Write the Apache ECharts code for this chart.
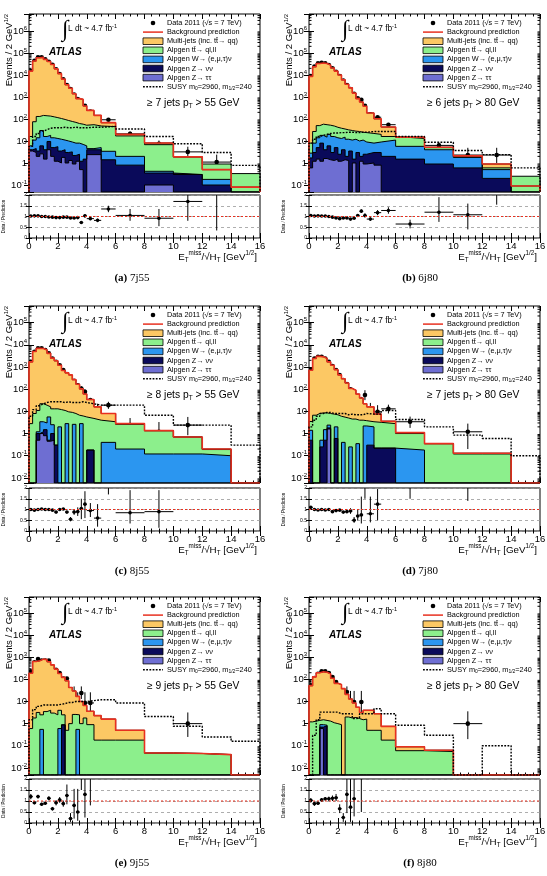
<!DOCTYPE html>
<html>
<head>
<meta charset="utf-8">
<script src="https://cdn.jsdelivr.net/npm/echarts@6/dist/echarts.min.js"></script>
<style>
  html, body { margin: 0; padding: 0; background: #fff; }
  #chart { width: 547px; height: 876px; }
</style>
</head>
<body>
<div id="chart"></div>
<script>
const _ = null;
// bin edges of E_T^miss / sqrt(H_T)
const edges = [0, 0.25, 0.5, 0.75, 1, 1.25, 1.5, 1.75, 2, 2.25, 2.5, 2.75, 3, 3.25, 3.5, 3.75, 4, 4.5, 5, 6, 8, 10, 12, 14, 16];

// (a) 7j55 : stack tops (cumulative), SUSY, data, ratio
const totA = [1.5e4, 4.3e4, 6.1e4, 6.3e4, 5.1e4, 4.1e4, 3.0e4, 1.9e4, 1.15e4, 6.5e3, 3.6e3, 2.5e3, 1.4e3, 840, 780, 390, 245, 146, 68, 20, 8.1, 1.9, 0.5, 0.08];
const ttA = [16, 75, 130, 145, 140, 135, 125, 115, 105, 95, 85, 77, 70, 62, 58, 52, 55, 48, 45, 17, 6.8, 1.9, 0.9, 0.33];
const wA = [6, 11, 14, 30, 16, 18, 14, 13, 12, 11, 10, 9, 8, 8, 7, 6, 4.5, 5, 3.4, 2, 0.42, 0.3, 0.18, 0];
const zvvA = [4, 4.5, 3.5, 6, 4, 9.5, 5, 5.5, 3.5, 4, 3, 3.2, 2.2, 2.5, 1.2, 1.5, 4, 4, 1.4, 0.8, 0.35, 0.3, 0.1, 0];
const zttA = [3.5, 3, 2, 2.6, 1.5, 4, 2, 1.2, 1, 1.8, 1, 1.3, 0.9, 1.2, 0.5, 0, 2.4, 2.4, 0, 0, 0.1, 0, 0, 0];
const susyA = [5.7, 16, 22, 28, 33, 38, 40, 40, 40, 42, 40, 40, 42, 40, 40, 40, 42, 42, 46, 35, 16, 7.5, 3, 0.78];
const dataA = [1.5e4, 4.4e4, 6.3e4, 6.3e4, 5.1e4, 4.0e4, 2.9e4, 1.8e4, 1.1e4, 6.3e3, 3.5e3, 2.3e3, 1.3e3, 800, 560, 400, 220, 120, 92, 21, 7.5, 3.2, 1.1, _];
const dataLoA = [_, _, _, _, _, _, _, _, _, _, _, _, _, _, _, _, 195, 100, 80, 16, 5.2, 1.5, 0.1, _];
const dataHiA = [_, _, _, _, _, _, _, _, _, _, _, _, _, _, _, _, 245, 140, 105, 27, 10.5, 5.5, 2.4, _];
const ratA = [1.02, 1.03, 1.03, 1.0, 1.0, 0.98, 0.97, 0.95, 0.95, 0.97, 0.97, 0.93, 0.93, 0.95, 0.72, 1.03, 0.9, 0.82, 1.35, 1.05, 0.92, 1.7, 2.2, _];
const ratLoA = [_, _, _, _, _, _, _, _, _, _, _, _, _, _, 0.66, 0.96, 0.83, 0.74, 1.2, 0.8, 0.55, 0.8, 0.35, _];
const ratHiA = [_, _, _, _, _, _, _, _, _, _, _, _, _, _, 0.78, 1.1, 0.97, 0.9, 1.5, 1.35, 1.35, 2.6, 4, _];

// (b) 6j80
const totB = [8.6e3, 2.35e4, 3.3e4, 3.5e4, 3.3e4, 2.8e4, 2.06e4, 1.5e4, 1.0e4, 6.0e3, 3.8e3, 2.6e3, 1.5e3, 840, 590, 380, 188, 102, 43, 15, 5.2, 2.1, 0.9, 0.09];
const ttB = [8, 27, 50, 58, 55, 52, 48, 42, 38, 35, 32, 30, 28, 27, 25, 24, 22, 20, 16, 13, 5, 1.9, 0.6, 0.25];
const wB = [2.8, 8, 14, 18, 15, 20, 16, 14, 13, 15, 12, 11, 12, 10, 11, 9, 8, 9, 11, 5.7, 4, 1.8, 0.5, 0];
const zvvB = [1.7, 3, 5, 8, 4, 6, 3, 5, 2.5, 4, 2, 3.5, 1.5, 3, 2, 2.5, 3, 3, 2, 1.5, 0.9, 0.6, 0.2, 0];
const zttB = [0.6, 1.2, 1.5, 1.2, 1.6, 1.4, 1.3, 1.5, 1.2, 1.4, 1.3, 0, 1.0, 0, 1.2, 0.9, 1.0, 0.8, 0, 0, 0, 0, 0, 0];
const susyB = [8, 12, 16, 18, 20, 22, 23, 23, 24, 24, 25, 25, 24, 24, 25, 25, 27, 27, 27, 16, 8.7, 3.7, 2.4, 0.6];
const dataB = [9e3, 2.4e4, 3.4e4, 3.6e4, 3.4e4, 2.8e4, 2.0e4, 1.4e4, 9e3, 5.6e3, 3.5e3, 2.3e3, 1.4e3, 880, 740, 400, 165, 120, 55, 10, 6.3, 2.3, 2.3, _];
const dataLoB = [_, _, _, _, _, _, _, _, _, _, _, _, _, _, _, _, 145, 100, 45, 7, 4.5, 1.0, 1.0, _];
const dataHiB = [_, _, _, _, _, _, _, _, _, _, _, _, _, _, _, _, 185, 140, 66, 13.5, 8.5, 4.9, 4.9, _];
const ratB = [1.05, 1.02, 1.03, 1.02, 1.02, 1.0, 0.97, 0.93, 0.9, 0.93, 0.93, 0.88, 0.92, 1.05, 1.25, 1.05, 0.88, 1.18, 1.28, 0.65, 1.2, 1.08, 2.5, _];
const ratLoB = [_, _, _, _, _, _, _, _, _, _, _, _, _, _, 1.17, 0.95, 0.8, 1.06, 1.13, 0.45, 0.75, 0.4, 1.55, _];
const ratHiB = [_, _, _, _, _, _, _, _, _, _, _, _, _, _, 1.33, 1.15, 0.96, 1.3, 1.43, 0.85, 1.9, 1.6, 5, _];

// (c) 8j55
const totC = [1.7e3, 5.0e3, 6.9e3, 6.8e3, 5.8e3, 4.1e3, 2.5e3, 1.9e3, 1.2e3, 700, 545, 440, 270, 167, 103, 61, 34, 16, 8, 2.8, 1.35, 0.7, 0.2, 0];
const ttC = [2.8, 8, 11, 22, 19, 16, 13, 13, 12, 11, 9.5, 9, 8, 6.7, 6.2, 5.6, 4.8, 4, 3.4, 2.6, 1.35, 0.7, 0.19, 0];
const wC = [0, 0, 1.2, 3.4, 3.0, 5.6, 2.5, 0.3, 2.0, 0, 2.8, 0, 2.6, 0, 2.8, 0, 0.18, 0, 0.4, 0.2, 0.12, 0.12, 0.1, 0];
const zvvC = [0, 0, 1.0, 1.2, 1.5, 0.5, 1.0, 0.3, 0, 0, 0, 0, 0, 0, 0, 0, 0.18, 0, 0, 0, 0, 0, 0, 0];
const zttC = [0, 0, 0.5, 1.0, 0.8, 0.45, 0.5, 0, 0, 0, 0, 0, 0, 0, 0, 0, 0, 0, 0, 0, 0, 0, 0, 0];
const susyC = [6, 12, 18, 22, 25, 27, 27, 27, 27, 25, 27, 25, 25, 25, 27, 25, 22, 19, 19, 19, 6.7, 2.4, 2.4, 0.3];
const dataC = [1.7e3, 4.9e3, 6.9e3, 6.9e3, 5.8e3, 4.1e3, 2.4e3, 1.7e3, 1.2e3, 720, 480, 240, 240, 150, 108, 76, 32, 9.5, 19, 2.4, 1.2, 2.4, _, _];
const dataLoC = [_, _, _, _, _, _, _, _, _, _, _, _, _, _, 85, 55, 25, 3.5, 13, 1.0, 0.35, 0.84, _, _];
const dataHiC = [_, _, _, _, _, _, _, _, _, _, _, _, _, _, 135, 100, 40, 22, 27, 5, 3.3, 5.6, _, _];
const ratC = [1.0, 0.97, 1.0, 1.02, 1.0, 1.0, 0.97, 0.88, 1.0, 1.02, 0.88, 0.55, 0.88, 0.9, 1.05, 1.25, 0.95, 0.6, 2.4, 0.85, 0.9, _, _, _];
const ratLoC = [_, _, _, _, _, _, _, _, _, _, 0.83, 0.45, 0.75, 0.7, 0.55, 0.6, 0.65, 0.2, 1.7, 0.35, 0.15, _, _, _];
const ratHiC = [_, _, _, _, _, _, _, _, _, _, 0.93, 0.65, 1.0, 1.1, 1.5, 1.85, 1.3, 1.25, 3.5, 1.9, 1.9, _, _, _];

// (d) 7j80
const totD = [710, 2.4e3, 3.0e3, 2.9e3, 2.45e3, 1.7e3, 1.2e3, 760, 440, 295, 190, 108, 90, 60, 40, 22, 16, 7.6, 3.6, 1.1, 0.35, 0.13, 0.13, 0];
const ttD = [3.5, 6.7, 8, 8.5, 8.5, 8, 7.5, 7, 6, 5.5, 5, 4.5, 4.5, 4, 4, 3.8, 3.4, 3.2, 2.8, 1.0, 0.35, 0.12, 0.12, 0];
const wD = [1.4, 0, 0, 0.5, 1.5, 2.4, 0, 2.0, 0, 0.4, 0, 0.25, 0, 0.35, 0, 2.2, 2.0, 0.22, 0.22, 0.18, 0, 0, 0, 0];
const zvvD = [0.5, 0, 0, 0.25, 0.5, 1.8, 0, 0.6, 0, 0, 0, 0, 0, 0, 0, 0, 0.3, 0.22, 0.22, 0, 0, 0, 0, 0];
const zttD = [0, 0, 0, 0, 0, 1.6, 0, 0, 0, 0, 0, 0, 0, 0, 0, 0, 0, 0, 0, 0, 0, 0, 0, 0];
const susyD = [2, 4, 6, 8, 9, 9, 8, 8, 8, 8, 7, 7.5, 7, 7, 7, 8, 7.5, 7.5, 11, 4.3, 2.0, 0.85, 0.6, 0.1];
const dataD = [780, 2.4e3, 2.9e3, 2.9e3, 2.4e3, 1.7e3, 1.1e3, 720, 430, 260, 170, 100, 45, 42, 30, 55, 13, 9.5, 13, 3.4, _, 1.2, _, _];
const dataLoD = [_, _, _, _, _, _, _, _, _, _, _, 85, 32, 30, 20, 32, 6, 3.5, 8, 1.8, _, 0.2, _, _];
const dataHiD = [_, _, _, _, _, _, _, _, _, _, _, 118, 60, 57, 45, 90, 24, 19, 20, 5.8, _, 2.8, _, _];
const ratD = [1.1, 1.0, 0.98, 1.0, 0.98, 1.0, 0.9, 0.95, 0.97, 0.88, 0.9, 0.93, 0.5, 0.7, 0.75, 2.5, 0.8, 1.25, 3.6, 3.1, _, 9, _, _];
const ratLoD = [_, _, _, _, _, _, _, _, _, _, _, 0.8, 0.38, 0.5, 0.35, 1.5, 0.4, 0.5, 2.2, 1.5, _, 1.4, _, _];
const ratHiD = [_, _, _, _, _, _, _, _, _, _, _, 1.06, 0.65, 1.0, 1.6, 4, 1.6, 1.95, 5, 5, _, 20, _, _];

// (e) 9j55
const totE = [190, 640, 690, 820, 780, 625, 450, 290, 185, 123, 86, 43, 30, 17, 10, 6.6, 3.6, 2.3, 1.6, 0.5, 0.047, 0.045, 0.04, 0];
const ttE = [0.6, 1.8, 3.2, 2.5, 3.5, 4, 3, 2.5, 4, 2.5, 0.5, 1.0, 2.6, 2.5, 1.0, 1.8, 0.9, 0.18, 0.18, 0.18, 0.047, 0.045, 0.04, 0];
const wE = [0, 0, 0, 0.55, 0, 0, 0, 0, 0.6, 0.9, 0, 0, 0, 0.55, 0, 0, 0, 0, 0, 0, 0, 0, 0, 0];
const zvvE = [0, 0, 0, 0, 0, 0, 0, 0, 0, 0.85, 0, 0, 0, 0, 0, 0, 0, 0, 0, 0, 0, 0, 0, 0];
const zttE = [0, 0, 0, 0, 0, 0, 0, 0, 0, 0, 0, 0, 0, 0, 0, 0, 0, 0, 0, 0, 0, 0, 0, 0];
const susyE = [1.5, 4.3, 6, 7, 7, 7, 7, 7, 7.5, 8, 9, 9, 10, 10, 10, 10, 11, 12, 12, 8.6, 2.1, 0.76, 0.25, 0.16];
const dataE = [230, 590, 830, 700, 700, 700, 295, 270, 195, 108, 108, 8.6, 24, 8.6, 24, 8.6, 8.6, _, _, _, _, 1.0, _, _];
const dataLoE = [_, _, _, _, _, _, _, _, _, _, 88, 1.5, 13, 1.5, 13, 1.5, 1.5, _, _, _, _, 0.25, _, _];
const dataHiE = [_, _, _, _, _, _, _, _, _, _, 130, 26, 48, 26, 48, 26, 26, _, _, _, _, 3.2, _, _];
const ratE = [1.2, 0.92, 1.2, 0.85, 0.9, 1.12, 0.65, 0.92, 1.05, 0.88, 1.25, 0.2, 0.8, 0.5, 2.4, 1.3, 2.4, _, _, _, _, 22, _, _];
const ratLoE = [1.08, 0.85, 1.12, 0.78, 0.83, 1.03, 0.57, 0.8, 0.92, 0.74, 0.85, 0.05, 0.2, 0.1, 1.5, 0.25, 0.8, _, _, _, _, 5, _, _];
const ratHiE = [1.32, 0.99, 1.28, 0.92, 0.97, 1.21, 0.73, 1.04, 1.18, 1.02, 1.75, 0.45, 1.55, 1.55, 4.5, 4, 7, _, _, _, _, 70, _, _];

// (f) 8j80
const totF = [52, 130, 200, 220, 210, 177, 113, 66, 58, 38, 21, 13, 8.6, 5.5, 3.2, 4, 4, 2.8, 0.75, 0.09, 0.063, 0, 0, 0];
const ttF = [1.2, 1.3, 1.4, 1.5, 1.4, 1.3, 1.1, 1.0, 0.9, 0, 2.0, 1.8, 1.9, 1.7, 1.5, 1.6, 0.5, 0.5, 0.18, 0.06, 0.055, 0, 0, 0];
const wF = [0, 0, 0, 0.9, 0.85, 0, 0, 0, 0, 0, 0, 0, 0, 0, 0, 0, 0, 0, 0, 0, 0, 0, 0, 0];
const zvvF = [0, 0, 0, 0.7, 0.8, 0, 0, 0, 0, 0, 0, 0, 0, 0, 0, 0, 0, 0, 0, 0, 0, 0, 0, 0];
const zttF = [0, 0, 0, 0.6, 0, 0, 0, 0, 0, 0, 0, 0, 0, 0, 0, 0, 0, 0, 0, 0, 0, 0, 0, 0];
const susyF = [0, 0.3, 1.5, 3.3, 3.3, 3.3, 3.3, 3.3, 2.8, 2.8, 2.8, 2.8, 1.7, 1.8, 2.8, 2.8, 2.8, 4.7, 2.8, 0.84, 0.3, 0, 0.1, 0];
const dataF = [54, 115, 180, 230, 230, 195, 127, 76, 38, 9.5, 27, 9.5, 9.5, _, 9.5, _, _, _, _, _, _, 1.0, _, _];
const dataLoF = [_, _, _, _, _, _, _, _, 22, 1.6, 13, 1.6, 1.6, _, 1.6, _, _, _, _, _, _, 0.2, _, _];
const dataHiF = [_, _, _, _, _, _, _, _, 63, 30, 48, 30, 30, _, 30, _, _, _, _, _, _, 3.6, _, _];
const ratF = [1.03, 0.88, 0.9, 1.05, 1.1, 1.1, 1.12, 1.15, 0.65, 0.25, 1.3, 0.72, 1.1, _, 3.0, _, _, _, _, _, _, 16, _, _];
const ratLoF = [0.93, 0.78, 0.82, 0.97, 1.02, 1.0, 1.0, 1.0, 0.45, 0.05, 0.45, 0.05, 0.3, _, 0.5, _, _, _, _, _, _, 3, _, _];
const ratHiF = [1.13, 0.98, 0.98, 1.13, 1.18, 1.2, 1.25, 1.32, 0.85, 0.45, 2.5, 2.5, 2.5, _, 6, _, _, _, _, _, _, 60, _, _];

const panels = [
  { cap: '(a)', tag: '7j55', jets: '7', pt: '55', tot: totA, tt: ttA, w: wA, zvv: zvvA, ztt: zttA, susy: susyA, data: dataA, lo: dataLoA, hi: dataHiA, rat: ratA, rlo: ratLoA, rhi: ratHiA },
  { cap: '(b)', tag: '6j80', jets: '6', pt: '80', tot: totB, tt: ttB, w: wB, zvv: zvvB, ztt: zttB, susy: susyB, data: dataB, lo: dataLoB, hi: dataHiB, rat: ratB, rlo: ratLoB, rhi: ratHiB },
  { cap: '(c)', tag: '8j55', jets: '8', pt: '55', tot: totC, tt: ttC, w: wC, zvv: zvvC, ztt: zttC, susy: susyC, data: dataC, lo: dataLoC, hi: dataHiC, rat: ratC, rlo: ratLoC, rhi: ratHiC },
  { cap: '(d)', tag: '7j80', jets: '7', pt: '80', tot: totD, tt: ttD, w: wD, zvv: zvvD, ztt: zttD, susy: susyD, data: dataD, lo: dataLoD, hi: dataHiD, rat: ratD, rlo: ratLoD, rhi: ratHiD },
  { cap: '(e)', tag: '9j55', jets: '9', pt: '55', tot: totE, tt: ttE, w: wE, zvv: zvvE, ztt: zttE, susy: susyE, data: dataE, lo: dataLoE, hi: dataHiE, rat: ratE, rlo: ratLoE, rhi: ratHiE },
  { cap: '(f)', tag: '8j80', jets: '8', pt: '80', tot: totF, tt: ttF, w: wF, zvv: zvvF, ztt: zttF, susy: susyF, data: dataF, lo: dataLoF, hi: dataHiF, rat: ratF, rlo: ratLoF, rhi: ratHiF }
];

// layout
const FONT = "'Liberation Sans', Arial, sans-serif";
const colLeft = [29, 309], colW = 231, capX = [132, 420];
const rowMain = [[14, 178], [306, 177], [597, 178]];
const rowRat = [[195, 43], [488, 43], [779, 44]];
const rowLog = [[-1.318, 6.77], [-2.23, 5.75], [-2.32, 5.72]];
const C = { mj: '#fcc864', tt: '#8cef8c', w: '#2b96f0', zvv: '#0a0a5a', ztt: '#6e6ed2', red: '#e8301f' };

function stepPts(vals, floor) {
  const n = vals.length, pts = [[edges[0], floor]];
  for (let i = 0; i < n; i++) pts.push([edges[i], Math.max(vals[i] || 0, floor)]);
  pts.push([edges[n], Math.max(vals[n - 1] || 0, floor)]);
  pts.push([edges[n], floor]);
  return pts;
}

function pointRows(vals, lo, hi) {
  const rows = [];
  vals.forEach((v, i) => {
    if (v == null) return;
    rows.push([(edges[i] + edges[i + 1]) / 2, v, edges[i], edges[i + 1], lo[i] != null ? lo[i] : v, hi[i] != null ? hi[i] : v]);
  });
  return rows;
}

function errPoint(api, floor, r) {
  const y = api.value(1), x = api.value(0);
  const c = api.coord([x, y]);
  const l = api.coord([api.value(2), y]), h = api.coord([api.value(3), y]);
  const lo = api.coord([x, Math.max(api.value(4), floor)]);
  const hi = api.coord([x, api.value(5)]);
  const ls = { stroke: '#000', lineWidth: 1 };
  return { type: 'group', children: [
    { type: 'line', shape: { x1: l[0], y1: c[1], x2: h[0], y2: c[1] }, style: ls },
    { type: 'line', shape: { x1: c[0], y1: lo[1], x2: c[0], y2: hi[1] }, style: ls },
    { type: 'circle', shape: { cx: c[0], cy: c[1], r: r }, style: { fill: '#000' } }
  ] };
}

function minorVals(mn, mx) {
  const out = [];
  for (let e = -3; e <= 6; e++) for (let m = 2; m <= 9; m++) {
    const v = m * Math.pow(10, e);
    if (v > mn && v < mx) out.push([0, v]);
  }
  return out;
}

function powLabel(v) {
  const e = Math.log10(v), r = Math.round(e);
  if (Math.abs(e - r) > 1e-4) return '';
  if (r === 0) return '1';
  if (r === 1) return '10';
  return '10{s|' + r + '}';
}

const tickStyle = { color: '#000', width: 1 };
function xAx(gi, pos, labels) {
  return { gridIndex: gi, type: 'value', position: pos, min: 0, max: 16, interval: 2,
    axisLine: { show: false }, splitLine: { show: false },
    axisTick: { show: true, inside: true, length: 5, lineStyle: tickStyle },
    minorTick: { show: true, splitNumber: 4, length: 2.5, lineStyle: tickStyle },
    axisLabel: { show: labels, color: '#000', fontSize: 9.5, fontFamily: FONT, margin: 3 } };
}
function yLog(gi, pos, mn, mx, labels) {
  return { gridIndex: gi, type: 'log', logBase: 10, position: pos, min: mn, max: mx, splitNumber: 10,
    axisLine: { show: false }, splitLine: { show: false },
    axisTick: { show: true, inside: true, length: 5, lineStyle: tickStyle },
    minorTick: { show: false },
    axisLabel: { show: labels, margin: 2, color: '#000', fontSize: 9.5, fontFamily: FONT, lineHeight: 12, formatter: powLabel,
      rich: { s: { fontSize: 6, fontFamily: FONT, color: '#000', verticalAlign: 'top', lineHeight: 6 } } } };
}
function yRat(gi, pos, labels) {
  return { gridIndex: gi, type: 'value', position: pos, min: 0, max: 2, interval: 0.5,
    axisLine: { show: false },
    splitLine: { show: pos === 'left', lineStyle: { color: '#999', type: [3, 3], width: 0.8 } },
    axisTick: { show: true, inside: true, length: 3, lineStyle: tickStyle },
    axisLabel: { show: labels, margin: 2, color: '#000', fontSize: 5, fontFamily: FONT } };
}

function txt(x, y, text, style, extra) {
  return Object.assign({ type: 'text', x: x, y: y, silent: true, z: 50,
    style: Object.assign({ text: text, fill: '#000', fontSize: 7, fontFamily: FONT, align: 'left', verticalAlign: 'middle' }, style || {}) }, extra || {});
}
function richSS(fs) {
  return { sub: { fontSize: fs, fontFamily: FONT, fill: '#000', verticalAlign: 'bottom', lineHeight: fs },
           sup: { fontSize: fs, fontFamily: FONT, fill: '#000', verticalAlign: 'top', lineHeight: fs } };
}

const grid = [], xAxis = [], yAxis = [], series = [], graphic = [];
const legendRows = [
  ['dot', 'Data 2011 (√s = 7 TeV)'],
  ['red', 'Background prediction'],
  [C.mj, 'Multi-jets (inc. tt̄→ qq)'],
  [C.tt, 'Alpgen tt̄→ ql,ll'],
  [C.w, 'Alpgen W→ (e,μ,τ)ν'],
  [C.zvv, 'Alpgen Z→ νν'],
  [C.ztt, 'Alpgen Z→ ττ'],
  ['dots', 'SUSY m{sub|0}=2960, m{sub|1/2}=240']
];

panels.forEach((p, k) => {
  const col = k % 2, row = Math.floor(k / 2);
  const fx = colLeft[col], fy = rowMain[row][0];
  const ymin = Math.pow(10, rowLog[row][0]), ymax = Math.pow(10, rowLog[row][1]);
  const rTop = rowRat[row][0], rBot = rTop + rowRat[row][1];
  const g = grid.length;
  const gridBase = { show: true, borderColor: '#000', borderWidth: 1, backgroundColor: 'transparent', outerBoundsMode: 'none' };
  grid.push(Object.assign({ left: fx, top: fy, width: colW, height: rowMain[row][1] }, gridBase));
  grid.push(Object.assign({ left: fx, top: rTop, width: colW, height: rowRat[row][1] }, gridBase));
  const xi = xAxis.length, yi = yAxis.length;
  xAxis.push(xAx(g, 'bottom', false), xAx(g, 'top', false), xAx(g + 1, 'bottom', true), xAx(g + 1, 'top', false));
  yAxis.push(yLog(g, 'left', ymin, ymax, true), yLog(g, 'right', ymin, ymax, false), yRat(g + 1, 'left', true), yRat(g + 1, 'right', false));

  // stacked histograms, drawn from the total down
  [['tot', C.mj], ['tt', C.tt], ['w', C.w], ['zvv', C.zvv], ['ztt', C.ztt]].forEach(([key, color]) => {
    series.push({ type: 'line', xAxisIndex: xi, yAxisIndex: yi, data: stepPts(p[key], ymin), step: 'end',
      symbol: 'none', silent: true, animation: false,
      lineStyle: { color: '#000', width: 1 }, areaStyle: { color: color, opacity: 1, origin: 'start' } });
  });
  series.push({ type: 'line', xAxisIndex: xi, yAxisIndex: yi, data: stepPts(p.tot, ymin), step: 'end',
    symbol: 'none', silent: true, animation: false, lineStyle: { color: C.red, width: 1.6 } });
  series.push({ type: 'line', xAxisIndex: xi, yAxisIndex: yi, data: stepPts(p.susy, ymin), step: 'end',
    symbol: 'none', silent: true, animation: false, lineStyle: { color: '#000', width: 1.4, type: [1.8, 1.4] } });
  series.push({ type: 'custom', xAxisIndex: xi, yAxisIndex: yi, clip: true, silent: true, animation: false,
    encode: { x: 0, y: 1 }, data: pointRows(p.data, p.lo, p.hi),
    renderItem: (params, api) => errPoint(api, ymin, 2.3) });
  // log minor ticks on both sides
  series.push({ type: 'custom', xAxisIndex: xi, yAxisIndex: yi, silent: true, animation: false,
    encode: { x: 0, y: 1 }, data: minorVals(ymin, ymax),
    renderItem: (params, api) => {
      const a = api.coord([0, api.value(1)]), b = api.coord([16, api.value(1)]);
      const ls = { stroke: '#000', lineWidth: 1 };
      return { type: 'group', children: [
        { type: 'line', shape: { x1: a[0], y1: a[1], x2: a[0] + 2.5, y2: a[1] }, style: ls },
        { type: 'line', shape: { x1: b[0] - 2.5, y1: b[1], x2: b[0], y2: b[1] }, style: ls }
      ] };
    } });
  // ratio panel
  series.push({ type: 'line', xAxisIndex: xi + 2, yAxisIndex: yi + 2, data: [[0, 1], [16, 1]], symbol: 'none',
    silent: true, animation: false, lineStyle: { color: C.red, width: 1, type: [2, 2] } });
  series.push({ type: 'custom', xAxisIndex: xi + 2, yAxisIndex: yi + 2, clip: true, silent: true, animation: false,
    encode: { x: 0, y: 1 }, data: pointRows(p.rat, p.rlo, p.rhi),
    renderItem: (params, api) => errPoint(api, 0, 1.8) });

  // legend
  legendRows.forEach(([kind, label], j) => {
    const y = fy + 9 + j * 9.1, x0 = fx + 114;
    if (kind === 'dot') graphic.push({ type: 'circle', silent: true, z: 50, shape: { cx: x0 + 10, cy: y, r: 2.3 }, style: { fill: '#000' } });
    else if (kind === 'red') graphic.push({ type: 'line', silent: true, z: 50, shape: { x1: x0, y1: y, x2: x0 + 20, y2: y }, style: { stroke: C.red, lineWidth: 1.5 } });
    else if (kind === 'dots') graphic.push({ type: 'line', silent: true, z: 50, shape: { x1: x0, y1: y, x2: x0 + 20, y2: y }, style: { stroke: '#000', lineWidth: 1.4, lineDash: [1.8, 1.4] } });
    else graphic.push({ type: 'rect', silent: true, z: 50, shape: { x: x0, y: y - 3.3, width: 20, height: 6.6 }, style: { fill: kind, stroke: '#000', lineWidth: 0.8 } });
    graphic.push(txt(fx + 138, y, label, { fontSize: 7.3, lineHeight: 9, rich: richSS(5) }));
  });
  graphic.push(txt(fx + 33, fy + 16, '∫', { fontSize: 23, fontFamily: "'Liberation Serif', serif" }));
  graphic.push(txt(fx + 39, fy + 15, 'L dt ~ 4.7 fb{sup|-1}', { fontSize: 8.3, lineHeight: 11, rich: richSS(5.5) }));
  graphic.push(txt(fx + 20, fy + 38, 'ATLAS', { fontSize: 10, fontWeight: 'bold', fontStyle: 'italic' }));
  graphic.push(txt(fx + 118, fy + 89, '≥ ' + p.jets + ' jets p{sub|T} > ' + p.pt + ' GeV', { fontSize: 10.3, lineHeight: 14, rich: richSS(6.5) }));
  // axis titles
  graphic.push(txt(fx - 20, fy, 'Events / 2 GeV{sup|1/2}', { fontSize: 9.5, align: 'right', lineHeight: 12, rich: richSS(6) }, { rotation: Math.PI / 2 }));
  graphic.push(txt(fx - 25, (rTop + rBot) / 2, 'Data / Prediction', { fontSize: 4.5, align: 'center' }, { rotation: Math.PI / 2 }));
  graphic.push(txt(fx + 228, rBot + 19, 'E{sub|T}{sup|miss}/√H{sub|T} [GeV{sup|1/2}]', { fontSize: 9.8, align: 'right', lineHeight: 13, rich: richSS(6.3) }));
  graphic.push(txt(capX[col], rBot + 40, '{b|' + p.cap + '} ' + p.tag, { fontSize: 11, fontFamily: "'Liberation Serif', serif", align: 'center',
    rich: { b: { fontSize: 11, fontWeight: 'bold', fontFamily: "'Liberation Serif', serif", fill: '#000' } } }));
});

const chart = echarts.init(document.getElementById('chart'), null, { renderer: 'canvas' });
chart.setOption({
  animation: false,
  backgroundColor: '#fff',
  textStyle: { fontFamily: FONT },
  grid: grid,
  xAxis: xAxis,
  yAxis: yAxis,
  series: series,
  graphic: graphic
});
</script>
</body>
</html>
